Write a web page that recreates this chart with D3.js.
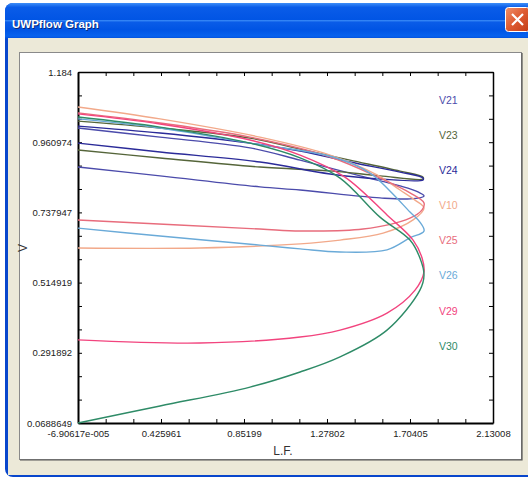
<!DOCTYPE html>
<html>
<head>
<meta charset="utf-8">
<script src="https://cdn.jsdelivr.net/npm/d3@7"></script>
<style>
body { margin: 0; background: #fff; }
svg { display: block; font-family: "Liberation Sans", Arial, sans-serif; }
.axis text { font-size: 9.5px; fill: #222; }
.axis line, .axis path { stroke: #000; }
</style>
</head>
<body>
<div id="chart"></div>
<script>
// tick labels exactly as UWPflow prints them
var xTickLabels = ["-6.90617e-005", "0.425961", "0.85199", "1.27802", "1.70405", "2.13008"];
var yTickLabels = ["0.0688649", "0.291892", "0.514919", "0.737947", "0.960974", "1.184"];

var buses = ["V21", "V23", "V24", "V10", "V25", "V26", "V29", "V30"];

// [L.F., V] : upper branch out to the nose, then back along the lower branch
var V21 = [[0, 1.006], [0.421, 0.977], [0.883, 0.943], [1.140, 0.904], [1.448, 0.854], [1.653, 0.822], [1.745, 0.803], [1.776, 0.790],
	[1.704, 0.781], [1.550, 0.784], [1.140, 0.809], [0.934, 0.819], [0.421, 0.854], [0, 0.882]];
var V23 = [[0, 1.028], [0.421, 1.006], [0.883, 0.974], [1.140, 0.939], [1.396, 0.904], [1.653, 0.869], [1.771, 0.850],
	[1.771, 0.844], [1.550, 0.854], [1.309, 0.869], [0.934, 0.882], [0.421, 0.911], [0, 0.936]];
var V24 = [[0, 1.012], [0.421, 0.990], [0.883, 0.958], [1.140, 0.933], [1.396, 0.898], [1.653, 0.866], [1.771, 0.847],
	[1.771, 0.841], [1.550, 0.844], [1.294, 0.860], [0.934, 0.898], [0.421, 0.930], [0, 0.958]];
var V10 = [[0, 1.073], [0.421, 1.035], [0.934, 0.977], [1.294, 0.920], [1.535, 0.857], [1.653, 0.809], [1.730, 0.777], [1.776, 0.752],
	[1.720, 0.714], [1.566, 0.672], [1.345, 0.650], [1.140, 0.638], [0.626, 0.625], [0, 0.625]];
var V25 = [[0, 1.054], [0.421, 1.022], [0.883, 0.977], [1.294, 0.914], [1.550, 0.847], [1.704, 0.800], [1.776, 0.768],
	[1.766, 0.746], [1.704, 0.720], [1.463, 0.685], [1.140, 0.679], [0.934, 0.685], [0, 0.714]];
var V26 = [[0, 1.035], [0.421, 1.006], [0.883, 0.958], [1.309, 0.914], [1.499, 0.863], [1.601, 0.806], [1.704, 0.739], [1.755, 0.707], [1.776, 0.679],
	[1.704, 0.657], [1.586, 0.619], [1.345, 0.612], [1.140, 0.622], [0.934, 0.634], [0.421, 0.663], [0, 0.688]];
var V29 = [[0, 1.051], [0.421, 1.019], [0.883, 0.968], [1.140, 0.920], [1.370, 0.850], [1.586, 0.730], [1.720, 0.650], [1.766, 0.593], [1.776, 0.549],
	[1.730, 0.491], [1.586, 0.418], [1.345, 0.364], [1.140, 0.342], [0.626, 0.323], [0, 0.333]];
var V30 = [[0, 1.041], [0.421, 1.009], [0.883, 0.958], [1.140, 0.911], [1.345, 0.847], [1.550, 0.723], [1.704, 0.650], [1.755, 0.593], [1.776, 0.539],
	[1.755, 0.491], [1.586, 0.364], [1.345, 0.279], [1.140, 0.231], [0.883, 0.183], [0.421, 0.123], [0, 0.0689]];

var curves = { V21: V21, V23: V23, V24: V24, V10: V10, V25: V25, V26: V26, V29: V29, V30: V30 };
var colors = { V21: "#4b4bab", V23: "#55653a", V24: "#2b2b99", V10: "#f2a98a",
	V25: "#e86c7c", V26: "#6aaad8", V29: "#f2447e", V30: "#2e8b67" };

var W = 528, H = 477;
var svg = d3.select("#chart").append("svg").attr("width", W).attr("height", H);

// --- window chrome (XP style dialog)
var defs = svg.append("defs");
var tg = defs.append("linearGradient").attr("id", "title").attr("x1", 0).attr("y1", 0).attr("x2", 0).attr("y2", 1);
[["0", "#3d8ef8"], ["0.12", "#0a5ce8"], ["0.5", "#0054e4"], ["0.85", "#0762ee"], ["1", "#0049d4"]].forEach(function(s) {
	tg.append("stop").attr("offset", s[0]).attr("stop-color", s[1]);
});
var cg = defs.append("linearGradient").attr("id", "close").attr("x1", 0).attr("y1", 0).attr("x2", 1).attr("y2", 1);
cg.append("stop").attr("offset", "0").attr("stop-color", "#f0906a");
cg.append("stop").attr("offset", "0.5").attr("stop-color", "#dd5a30");
cg.append("stop").attr("offset", "1").attr("stop-color", "#c23c16");

svg.append("rect").attr("x", 5).attr("y", 3).attr("width", 540).attr("height", 474).attr("rx", 8).attr("fill", "#0846cc");
svg.append("rect").attr("x", 5).attr("y", 3).attr("width", 540).attr("height", 36).attr("rx", 8).attr("fill", "url(#title)");
svg.append("rect").attr("x", 5).attr("y", 20).attr("width", 540).attr("height", 19).attr("fill", "url(#title)");
svg.append("rect").attr("x", 8).attr("y", 38).attr("width", 530).attr("height", 437).attr("fill", "#ece9d8");

svg.append("text").attr("x", 13).attr("y", 29).attr("fill", "#0b2a7a")
	.style("font-size", "11.5px").style("font-weight", "bold").text("UWPflow Graph");
svg.append("text").attr("x", 12).attr("y", 28).attr("fill", "#fff")
	.style("font-size", "11.5px").style("font-weight", "bold").text("UWPflow Graph");

svg.append("rect").attr("x", 505.5).attr("y", 7.5).attr("width", 24).attr("height", 24).attr("rx", 3)
	.attr("fill", "url(#close)").attr("stroke", "#fff").attr("stroke-width", 1);
svg.append("path").attr("d", "M512,14 L523,25 M523,14 L512,25")
	.attr("stroke", "#fff").attr("stroke-width", 2.2);

// white panel the graph sits on
svg.append("rect").attr("x", 19.5).attr("y", 52.5).attr("width", 502).attr("height", 407)
	.attr("fill", "#fff").attr("stroke", "#8a8a8a");
svg.append("path").attr("d", "M522,53 V460 H20").attr("fill", "none").attr("stroke", "#555").attr("stroke-width", 1.2);

// --- scales and axes
var xMajor = xTickLabels.map(Number), yMajor = yTickLabels.map(Number);
var xScale = d3.scaleLinear().domain([xMajor[0], xMajor[5]]).range([78, 493]);
var yScale = d3.scaleLinear().domain([yMajor[0], yMajor[5]]).range([423, 72]);

function withMinor(m) {
	var out = [];
	for (var i = 0; i < m.length - 1; i++) {
		out.push(m[i], m[i] + (m[i + 1] - m[i]) / 3, m[i] + 2 * (m[i + 1] - m[i]) / 3);
	}
	out.push(m[m.length - 1]);
	return out;
}
var xAll = withMinor(xMajor), yAll = withMinor(yMajor);

function labelFor(major, labels) {
	return function(d) { var i = major.indexOf(d); return i < 0 ? "" : labels[i]; };
}

svg.append("g").attr("class", "axis").attr("transform", "translate(0,72)")
	.call(d3.axisTop(xScale).tickValues(xAll).tickSizeInner(-4).tickSizeOuter(0).tickFormat(""))
	.select(".domain").attr("stroke-width", 1.5);
svg.append("g").attr("class", "axis").attr("transform", "translate(493,0)")
	.call(d3.axisRight(yScale).tickValues(yAll).tickSizeInner(-4).tickSizeOuter(0).tickFormat(""))
	.select(".domain").attr("stroke-width", 1.5);
svg.append("g").attr("class", "axis").attr("transform", "translate(0,423)")
	.call(d3.axisBottom(xScale).tickValues(xAll).tickSizeInner(-4).tickSizeOuter(0).tickPadding(7)
		.tickFormat(labelFor(xMajor, xTickLabels)))
	.select(".domain").attr("stroke-width", 2);
svg.append("g").attr("class", "axis").attr("transform", "translate(78,0)")
	.call(d3.axisLeft(yScale).tickValues(yAll).tickSizeInner(-4).tickSizeOuter(0).tickPadding(6)
		.tickFormat(labelFor(yMajor, yTickLabels)))
	.select(".domain").attr("stroke-width", 2);

// axis titles
svg.append("text").attr("x", 283).attr("y", 455).attr("text-anchor", "middle")
	.style("font-size", "12px").attr("fill", "#333").text("L.F.");
svg.append("text").attr("transform", "translate(27,248) rotate(-90)").attr("text-anchor", "middle")
	.style("font-size", "12px").attr("fill", "#333").text("V");

// --- the PV curves
var line = d3.line()
	.x(function(d) { return xScale(d[0]); })
	.y(function(d) { return yScale(d[1]); })
	.curve(d3.curveCatmullRom.alpha(0.5));

svg.append("g").selectAll("path")
	.data(buses)
	.enter().append("path")
	.attr("d", function(b) { return line(curves[b]); })
	.attr("fill", "none")
	.attr("stroke", function(b) { return colors[b]; })
	.attr("stroke-width", 1.4);

// legend down the right side
var legendY = d3.scalePoint().domain(buses).range([100, 346]);
svg.append("g").selectAll("text")
	.data(buses)
	.enter().append("text")
	.attr("x", 439)
	.attr("y", function(b) { return legendY(b); })
	.attr("dy", "0.35em")
	.style("font-size", "10.5px")
	.attr("fill", function(b) { return colors[b]; })
	.text(function(b) { return b; });
</script>
</body>
</html>
